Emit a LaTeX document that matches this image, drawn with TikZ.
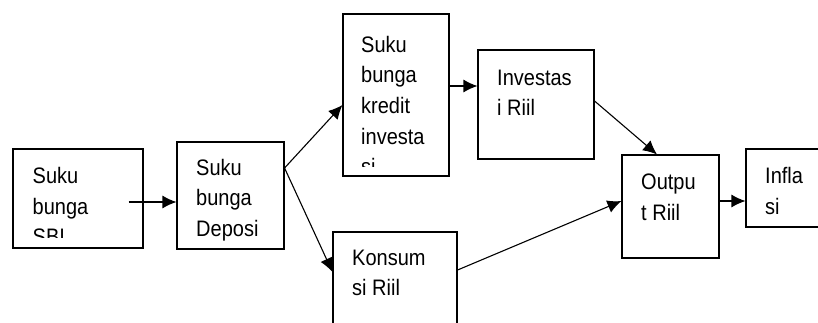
\documentclass[tikz,border=0pt]{standalone}
\usepackage{graphicx}
\usepackage{fontspec}
\setmainfont{Liberation Sans}
\usetikzlibrary{arrows.meta}
\newcommand{\tall}[1]{\scalebox{1}[1.12]{#1}}

\begin{document}
\begin{tikzpicture}[x=1pt,y=-1pt]
\tikzset{box/.style = {shape=rectangle,draw,line width=1.1pt,inner sep=0pt}}
\tikzset{boxtext/.style = {anchor=north west,inner sep=0pt,align=left,font=\fontsize{20}{30.7}\selectfont}}
\tikzset{edge/.style = {line width=1.1pt,-{Latex[length=14pt,width=13pt]}}}
\clip (0,0) rectangle (818,322);
% boxes
\node[box,minimum width=130pt,minimum height=99pt]  (sbi)    at (78,198.5)  {};
\node[box,minimum width=107pt,minimum height=107pt] (depo)   at (230.5,195.5) {};
\node[box,minimum width=106pt,minimum height=162pt] (kredit) at (396,95)    {};
\node[box,minimum width=116pt,minimum height=109pt] (inv)    at (536,104.5) {};
\node[box,minimum width=97pt,minimum height=103pt]  (out)    at (670.5,206.5) {};
\node[box,minimum width=94pt,minimum height=78pt]   (inf)    at (793,188)   {};
\node[box,minimum width=124pt,minimum height=110pt] (kons)   at (395,287)   {};
% texts
\begin{scope}
\clip (sbi.north west) rectangle ([yshift=11pt]sbi.south east);
\node[boxtext] (sbi-t) at (32.5,161.8) {\strut\tall{Suku}\\\tall{bunga}\\\tall{SBI}};
\end{scope}
\node[boxtext] (depo-t) at (196,153.5) {\strut\tall{Suku}\\\tall{bunga}\\\tall{Deposi}};
\begin{scope}
\clip (kredit.north west) rectangle ([yshift=10pt]kredit.south east);
\node[boxtext] (kredit-t) at (361,30.5) {\strut\tall{Suku}\\\tall{bunga}\\\tall{kredit}\\\tall{investa}\\\tall{si}};
\end{scope}
\node[boxtext] (inv-t)  at (497,63.5)  {\strut\tall{Investas}\\\tall{i Riil}};
\node[boxtext] (out-t)  at (641,168)   {\strut\tall{Outpu}\\\tall{t Riil}};
\node[boxtext] (inf-t)  at (765,162)   {\strut\tall{Infla}\\\tall{si}};
\node[boxtext] (kons-t) at (352,243.5) {\strut\tall{Konsum}\\\tall{si Riil}};
% edges
\draw[edge] ([xshift=-15pt,yshift=-3.5pt]sbi.east) to ([yshift=-6.5pt]depo.west);
\draw[edge] ([yshift=27.5pt]depo.east) to ([yshift=-10pt]kredit.west);
\draw[edge] ([yshift=27.5pt]depo.east) to ([yshift=15pt]kons.west);
\draw[edge] ([yshift=9pt]kredit.east)  to ([yshift=18.5pt]inv.west);
\draw[edge] ([yshift=3.5pt]inv.east)   to ([xshift=-13.5pt]out.north);
\draw[edge] ([yshift=17pt]kons.east)   to ([yshift=5.5pt]out.west);
\draw[edge] ([yshift=5.5pt]out.east)   to ([yshift=-13pt]inf.west);
\end{tikzpicture}
\end{document}
